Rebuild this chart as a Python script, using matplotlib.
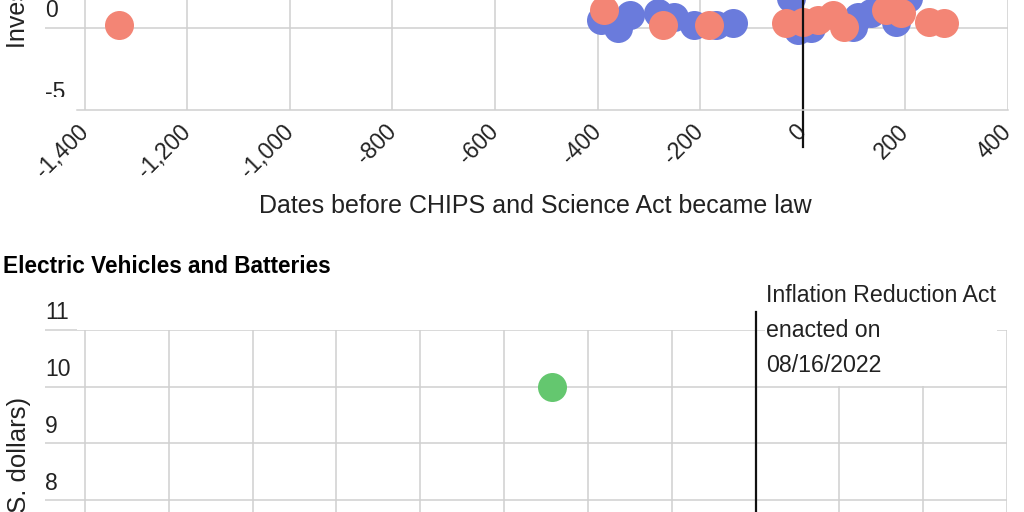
import matplotlib
matplotlib.use("Agg")
import matplotlib.pyplot as plt
from matplotlib.patches import Rectangle
from matplotlib.transforms import Bbox, TransformedBbox, blended_transform_factory, offset_copy

plt.rcParams['font.family'] = ['Liberation Sans', 'DejaVu Sans']

# Semiconductors (CHIPS) - days relative to law, investment
blue_days = [-394, -361, -336, -283, -252, -213, -170, -137, -23, -10, 16, 98, 107, 133, 181, 205]
blue_vals = [0.49, 0.0, 0.8, 0.9, 0.67, 0.18, 0.18, 0.3, 1.8, -0.1, 0.0, 0.06, 0.67, 0.9, 0.37, 1.8]
orange_days = [-1333, -388, -273, -183, -33, 0, 29, 59, 80, 162, 191, 246, 275]
orange_vals = [0.18, 1.1, 0.18, 0.18, 0.3, 0.37, 0.5, 0.8, 0.06, 1.1, 0.9, 0.37, 0.3]

# Electric vehicles and batteries
ev_days = [-243]
ev_vals = [10]

top_xticks = [-1400, -1200, -1000, -800, -600, -400, -200, 0, 200, 400]
top_yticks = [0, 5, 10]
bot_xticks = [-800, -700, -600, -500, -400, -300, -200, -100, 0, 100, 200, 300]
bot_yticks = [0, 1, 2, 3, 4, 5, 6, 7, 8, 9, 10, 11]

ylabel = 'Investment (billions of U.S. dollars)'
xlabel = 'Dates before CHIPS and Science Act became law'

W, H = 1024, 512
GRID = '#d0d0d0'
TXT = '#222222'
BLUE = '#6a7bdc'
ORANGE = '#f38575'
GREEN = '#64c76f'
MS = 436
TICK_FS = 16.5


def fx(px):
    return px / W


def fy(py):
    return 1 - py / H


def clip_above(artist, py, left=0, right=1):
    # keep only the part of a text that lies above pixel row py (and between left/right)
    artist.set_clip_on(True)
    artist.set_clip_box(TransformedBbox(Bbox.from_extents(left, fy(py), right, 1), fig.transFigure))


fig = plt.figure(figsize=(W / 100, H / 100), dpi=100)


def style_axes(ax, yticks):
    for s in ax.spines.values():
        s.set_visible(False)
    ax.set_yticks(yticks)
    ax.grid(True, color=GRID, linewidth=1.1)
    ax.set_axisbelow(True)
    ax.tick_params(axis='y', length=23, width=1.1, color=GRID, labelleft=False)
    ax.tick_params(axis='x', length=0, colors=TXT, labelsize=TICK_FS)
    tr = offset_copy(blended_transform_factory(fig.transFigure, ax.transData),
                     fig=fig, x=0, y=4, units='points')
    for v in yticks:
        ax.text(fx(45), v, str(v), transform=tr, ha='left', va='bottom',
                fontsize=TICK_FS, color=TXT)
    return tr


# ---- top chart (CHIPS) ----
ax1 = fig.add_axes([fx(77), fy(110), (1008 - 77) / W, (110 + 136) / H])
ax1.set_xlim(-1415, 400)
ax1.set_ylim(-5, 10)
tr1 = style_axes(ax1, top_yticks)
ax1.spines['bottom'].set_visible(True)
ax1.spines['bottom'].set_color(GRID)
ax1.spines['bottom'].set_linewidth(1.1)
ax1.set_xticks(top_xticks)
ax1.set_xticklabels([f'{v:,}' for v in top_xticks], rotation=45, ha='right',
                    va='center', rotation_mode='anchor')
ax1.tick_params(axis='x', pad=13)
clip_above(ax1.get_xticklabels()[0], 512, 0, fx(86))

m5 = ax1.text(fx(45), -5, '-5', transform=tr1, ha='left', va='bottom', fontsize=TICK_FS, color=TXT)
clip_above(m5, 97)

ax1.scatter(blue_days, blue_vals, s=MS, color=BLUE, linewidths=0, zorder=1)
ax1.scatter(orange_days, orange_vals, s=MS, color=ORANGE, linewidths=0, zorder=1.1)
ax1.axvline(0, ymin=-37 / 246, ymax=1, color='#111111', linewidth=1.6, clip_on=False)

fig.text(fx(535), fy(213), xlabel, ha='center', va='baseline', fontsize=18, color=TXT)
fig.text(fx(18), fy(48), ylabel, rotation=90, rotation_mode='anchor', ha='left',
         va='center', fontsize=18, color=TXT)

# ---- bottom chart (EV) ----
fig.text(fx(3), fy(273), 'Electric Vehicles and Batteries', ha='left', va='baseline',
         fontsize=16.3, fontweight='bold', color='black')

ax2 = fig.add_axes([fx(77), fy(954), (1007 - 77) / W, 624 / H])
ax2.set_xlim(-809.5, 300)
ax2.set_ylim(0, 11)
style_axes(ax2, bot_yticks)
ax2.set_xticks(bot_xticks)
ax2.set_xticklabels([])
ax2.scatter(ev_days, ev_vals, s=MS, color=GREEN, linewidths=0, zorder=1)
ax2.axvline(0, ymin=0, ymax=1 + 18 / 624, color='#111111', linewidth=1.6, clip_on=False)

fig.patches.append(Rectangle((fx(765), fy(386)), (997 - 765) / W, (386 - 280) / H,
                             transform=fig.transFigure, facecolor='white',
                             edgecolor='none', zorder=1))
fig.text(fx(766), fy(372), 'Inflation Reduction Act\nenacted on\n08/16/2022',
         ha='left', va='baseline', fontsize=16.7, color=TXT, linespacing=1.66, zorder=3)

fig.text(fx(19), fy(397), ylabel, rotation=90, rotation_mode='anchor', ha='right',
         va='center', fontsize=18.5, color=TXT)

fig.savefig('out.png', dpi=100)
